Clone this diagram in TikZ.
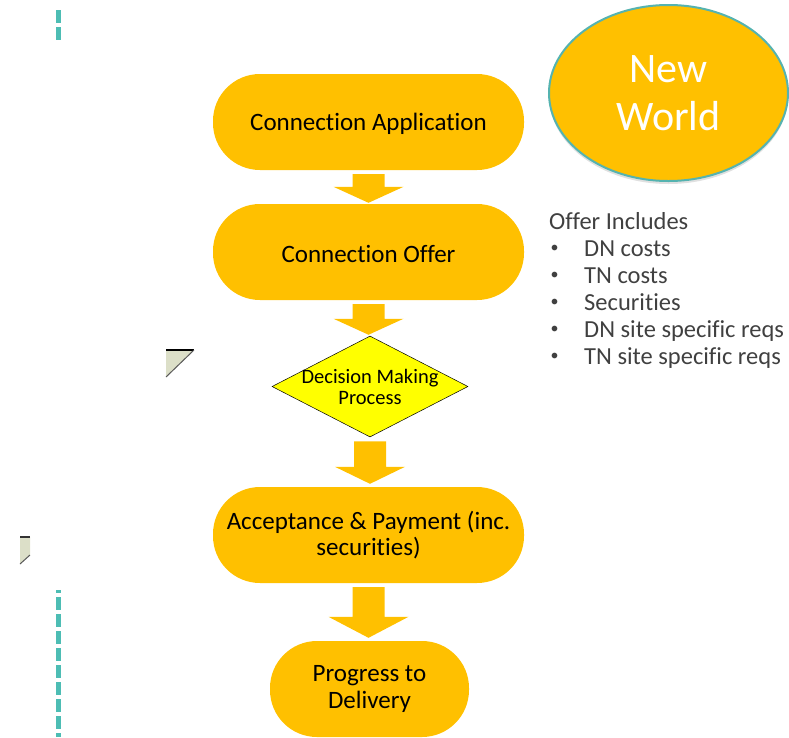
\documentclass[tikz,border=0pt]{standalone}
\usepackage{fontspec}
\setmainfont{Carlito}[RawFeature={-liga;-clig;-dlig;-calt}]
\usetikzlibrary{shapes.geometric,calc,shadows}
\definecolor{gold}{HTML}{FFC000}
\definecolor{decis}{HTML}{FFFF00}
\definecolor{tealdash}{HTML}{4DBDB4}
\definecolor{tealedge}{HTML}{55B3B0}
\definecolor{txtgray}{HTML}{404040}
\definecolor{trifill}{HTML}{DCDFC8}
\newcommand{\blockarrow}[5]{%
  \fill[gold] let \p1=(#1), \p2=(#2) in
    (\x1-16,\y1-4) -- (\x1+16,\y1-4) -- (\x1+16,\y2+#3+2) -- (\x1+#4,\y2+#3+2)
    -- (\x1,\y2+#5) -- (\x1-#4,\y2+#3+2) -- (\x1-16,\y2+#3+2) -- cycle;}
\newcommand{\dn}[1]{\raisebox{-2pt}[\height][\depth]{#1}}
\begin{document}
\begin{tikzpicture}[x=1pt,y=-1pt,
  pill/.style={fill=gold, rounded corners=47pt, minimum height=96pt, inner sep=0pt,
    align=center, font=\fontsize{25}{26}\selectfont},
  listtxt/.style={anchor=base west, inner sep=0pt, text=txtgray, font=\fontsize{24.5}{27}\selectfont},
  bul/.style={anchor=center, inner sep=0pt, text=txtgray, font=\fontsize{16}{16}\selectfont},
  dashline/.style={draw=tealdash, line width=5pt, dash pattern=on 13pt off 4pt}]
\useasboundingbox (0,0) rectangle (789,737);

% dashed teal lines
\draw[dashline] (58,10) -- (58,42);
\draw[dashline, dash phase=10pt] (58,590) -- (58,737);

% small triangle shapes
\fill[trifill] (166,350) -- (194,350) -- (166,377) -- cycle;
\draw[black, line width=1.2pt] (166,350) -- (194,350);
\draw[gray!70!black, line width=1pt] (194,350) -- (166,377);
\fill[trifill] (20,537) -- (30,537) -- (30,555) -- (20,564) -- cycle;
\draw[black!80, line width=1.2pt] (20,537) -- (30,537);
\draw[gray!70!black, line width=1pt] (30,555) -- (20,564);

% flow boxes
\node[pill, minimum width=311pt] (a) at (368.5,122) {\dn{Connection Application}};
\node[pill, minimum width=311pt] (b) at (368.5,252) {\dn{Connection Offer}};
\node[diamond, fill=decis, draw=black, line width=0.5pt, minimum width=196pt,
  minimum height=101pt, inner sep=0pt] (d) at (370,386.5) {};
\node[align=center, inner sep=0pt, font=\fontsize{20.5}{21}\selectfont] (dt) at (d.center) {Decision Making\\Process};
\node[pill, minimum width=311pt] (c) at (368.5,535) {Acceptance \& Payment (inc.\\securities)};
\node[pill, minimum width=199pt, font=\fontsize{25}{27}\selectfont] (e) at (369.5,689) {Progress to\\Delivery};

% block arrows
\blockarrow{a.south}{b.north}{15}{35}{1}
\blockarrow{b.south}{d.north}{15}{35}{1}
\blockarrow{d.south}{c.north}{18}{35}{3}
\blockarrow{c.south}{e.north}{22}{40}{3}

% New World ellipse
\node[ellipse, fill=gold, draw=tealedge, line width=2pt, minimum width=239pt, minimum height=176pt,
  drop shadow={shadow xshift=0pt, shadow yshift=-3pt, opacity=0.12, fill=black},
  align=center, text=white, font=\fontsize{42}{48}\selectfont] (nw) at (668.5,93) {New\\World};

% offer list
\node[listtxt] (o0) at (549,229) {Offer Includes};
\node[bul] (b1) at (554.5,249) {\textbullet};
\node[listtxt] (o1) at (584,256) {DN costs};
\node[bul] (b2) at (554.5,276) {\textbullet};
\node[listtxt] (o2) at (584,283) {TN costs};
\node[bul] (b3) at (554.5,303) {\textbullet};
\node[listtxt] (o3) at (584,310) {Securities};
\node[bul] (b4) at (554.5,330) {\textbullet};
\node[listtxt] (o4) at (584,337) {DN site specific reqs};
\node[bul] (b5) at (554.5,357) {\textbullet};
\node[listtxt] (o5) at (584,364) {TN site specific reqs};
\end{tikzpicture}
\end{document}
